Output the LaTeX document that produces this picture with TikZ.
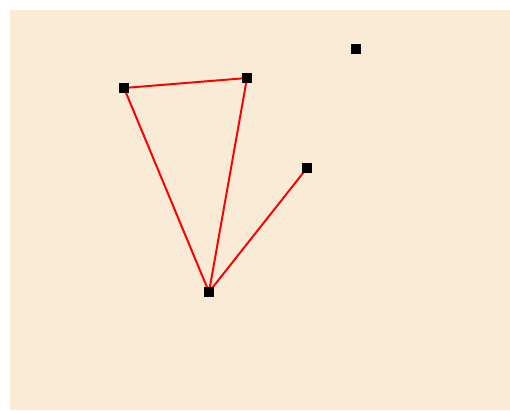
\documentclass[tikz,border=0pt]{standalone}
\usepackage{tikz}
\usepackage{xcolor}
\definecolor{paper}{RGB}{250,235,215}
\definecolor{edgered}{RGB}{255,0,0}

\begin{document}
\begin{tikzpicture}[x=0.025cm, y=0.025cm, pt/.style={draw=none,fill=black,minimum size=0.25cm,inner sep=0pt}, edge/.style={draw=edgered,line width=1.4pt}]
\useasboundingbox (0,0) rectangle (510,410);
\fill[paper] (10,0) rectangle (510,400);
\node[pt] (p1) at (124,322) {};
\node[pt] (p2) at (247,332) {};
\node[pt] (p3) at (356,361) {};
\node[pt] (p4) at (307,242) {};
\node[pt] (p5) at (209,118) {};
\draw[edge] (p1.center)--(p2.center) (p1.center)--(p5.center) (p2.center)--(p5.center) (p4.center)--(p5.center);
\foreach \p in {p1,p2,p3,p4,p5} \fill (\p.south west) rectangle (\p.north east);
\end{tikzpicture}
\end{document}
